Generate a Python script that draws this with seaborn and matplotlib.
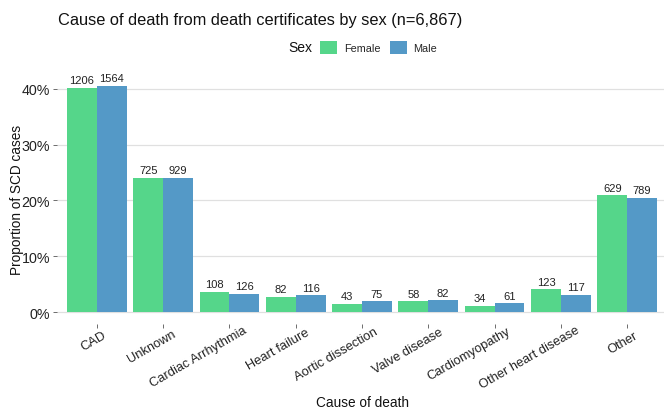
import matplotlib
matplotlib.use("Agg")
import numpy as np
import matplotlib.pyplot as plt
import seaborn as sns
import pandas as pd
from matplotlib.ticker import PercentFormatter, FixedLocator
from matplotlib.patches import Patch
from matplotlib.transforms import Affine2D

causes = ["CAD", "Unknown", "Cardiac Arrhythmia", "Heart failure", "Aortic dissection",
          "Valve disease", "Cardiomyopathy", "Other heart disease", "Other"]
female_counts = [1206, 725, 108, 82, 43, 58, 34, 123, 629]
male_counts = [1564, 929, 126, 116, 75, 82, 61, 117, 789]
sexes = ["Female", "Male"]
colors = {"Female": "#55D68A", "Male": "#5499C7"}

f_tot = sum(female_counts)
m_tot = sum(male_counts)
rows = []
for c, fc, mc in zip(causes, female_counts, male_counts):
    rows.append({"cause": c, "sex": "Female", "n": fc, "prop": fc / f_tot})
    rows.append({"cause": c, "sex": "Male", "n": mc, "prop": mc / m_tot})
df = pd.DataFrame(rows)

sns.set_theme(style="white")
plt.rcParams["font.family"] = ["Liberation Sans", "DejaVu Sans"]

fig = plt.figure(figsize=(6.64, 4.10), dpi=100)
W, H = 664, 410
ax = fig.add_axes([57 / W, 1 - 324.5 / H, (667 - 57) / W, (324.5 - 75.5) / H])

sns.barplot(data=df, x="cause", y="prop", hue="sex", order=causes, hue_order=sexes,
            palette=colors, saturation=1, width=0.9, gap=0, ax=ax, legend=False,
            edgecolor="none", linewidth=0)

for cont, counts in zip(ax.containers, [female_counts, male_counts]):
    ax.bar_label(cont, labels=[str(v) for v in counts], padding=2, fontsize=8,
                 color="#222222")

ymax = max(df["prop"])
ax.set_ylim(-0.05 * ymax, ymax * 1.05)
ax.set_xlim(-0.6, len(causes) - 0.4)
ax.yaxis.set_major_locator(FixedLocator([0, 0.1, 0.2, 0.3, 0.4]))
ax.yaxis.set_major_formatter(PercentFormatter(1.0, decimals=0))
ax.grid(axis="y", color="#E0E0E0", linewidth=0.9)
ax.set_axisbelow(True)
for s in ax.spines.values():
    s.set_visible(False)
ax.tick_params(axis="y", which="major", length=3, width=0.6, color="#555555",
               labelsize=10.3, labelcolor="#222222", pad=2, left=True)
ax.tick_params(axis="x", which="major", length=3, width=0.6, color="#555555",
               labelsize=9.3, labelcolor="#222222", pad=2, bottom=True)
plt.setp(ax.get_xticklabels(), rotation=30, ha="right", va="top",
         rotation_mode="anchor")

ax.set_xlabel("")
ax.set_ylabel("Proportion of SCD cases", fontsize=9.8, color="#111111")
ax.yaxis.set_label_coords(-(57 - 24) / (667 - 57), (324.5 - 200) / (324.5 - 75.5))

fig.text(362.5 / W, 1 - 407 / H, "Cause of death", fontsize=9.8, va="baseline",
         ha="center", color="#111111")
fig.text(58 / W, 1 - 25 / H, "Cause of death from death certificates by sex (n=6,867)",
         fontsize=11.8, va="baseline", ha="left", color="#111111")
fig.text(288 / W, 1 - 48.5 / H, "Sex", fontsize=10, va="center", ha="left", color="#111111")
handles = [Patch(facecolor=colors[s], edgecolor="none") for s in sexes]
fig.legend(handles, sexes, loc="center left", bbox_to_anchor=(320 / W, 1 - 48.5 / H),
           ncol=2, frameon=False, fontsize=7.8, handlelength=1.57, handleheight=1.57,
           handletextpad=0.65, columnspacing=0.83, borderaxespad=0, borderpad=0)

# shift rotated tick labels like ggplot's justification
fig.canvas.draw()
r = fig.canvas.get_renderer()
c30, s30 = np.cos(np.radians(30)), np.sin(np.radians(30))
for lbl in ax.get_xticklabels():
    w, h, d = r.get_text_width_height_descent(lbl.get_text(), lbl.get_fontproperties(),
                                              ismath=False)
    dx = 0.114 * w * c30 + 3
    dy = 0.114 * w * s30
    lbl.set_transform(lbl.get_transform() + Affine2D().translate(dx, dy))

fig.savefig("out.png", dpi=100, facecolor="white")
